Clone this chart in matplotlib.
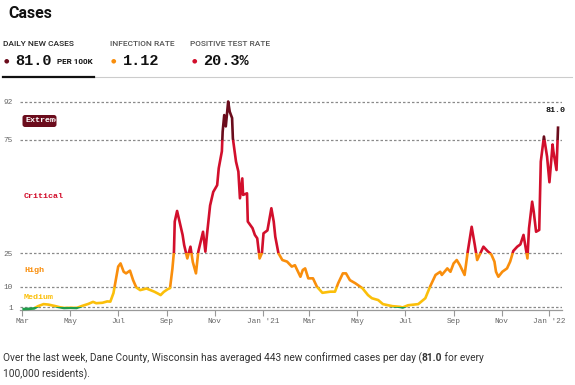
import matplotlib
matplotlib.use('Agg')
import matplotlib.pyplot as plt
import matplotlib.dates as mdates
from matplotlib.patches import Rectangle, FancyBboxPatch
from matplotlib.transforms import Bbox, TransformedBbox
import pandas as pd

# --- Data: daily new cases per 100k, Dane County, WI ---
dates = [
    '2020-03-01', '2020-03-09', '2020-03-16', '2020-03-21', '2020-03-28', '2020-04-03',
    '2020-04-11', '2020-04-18', '2020-04-23', '2020-05-01', '2020-05-09', '2020-05-16',
    '2020-05-24', '2020-05-30', '2020-06-03', '2020-06-11', '2020-06-17', '2020-06-21',
    '2020-06-25', '2020-06-29', '2020-07-01', '2020-07-04', '2020-07-08', '2020-07-11',
    '2020-07-16', '2020-07-20', '2020-07-24', '2020-07-29', '2020-08-06', '2020-08-11',
    '2020-08-16', '2020-08-21', '2020-08-24', '2020-08-28', '2020-09-02', '2020-09-05',
    '2020-09-08', '2020-09-10', '2020-09-11', '2020-09-14', '2020-09-17', '2020-09-21',
    '2020-09-23', '2020-09-27', '2020-10-01', '2020-10-04', '2020-10-08', '2020-10-11',
    '2020-10-17', '2020-10-20', '2020-10-22', '2020-10-26', '2020-10-30', '2020-11-04',
    '2020-11-06', '2020-11-10', '2020-11-11', '2020-11-13', '2020-11-15', '2020-11-18',
    '2020-11-20', '2020-11-23', '2020-11-24', '2020-11-28', '2020-12-01', '2020-12-03',
    '2020-12-06', '2020-12-07', '2020-12-12', '2020-12-13', '2020-12-19', '2020-12-22',
    '2020-12-25', '2020-12-28', '2020-12-31', '2021-01-02', '2021-01-07', '2021-01-12',
    '2021-01-15', '2021-01-17', '2021-01-21', '2021-01-26', '2021-02-01', '2021-02-07',
    '2021-02-11', '2021-02-18', '2021-02-21', '2021-02-24', '2021-02-28', '2021-03-06',
    '2021-03-11', '2021-03-18', '2021-03-28', '2021-04-03', '2021-04-07', '2021-04-13',
    '2021-04-17', '2021-04-22', '2021-04-29', '2021-05-08', '2021-05-15', '2021-05-20',
    '2021-05-28', '2021-06-03', '2021-06-15', '2021-06-25', '2021-06-28', '2021-07-05',
    '2021-07-18', '2021-07-27', '2021-08-02', '2021-08-09', '2021-08-15', '2021-08-17',
    '2021-08-24', '2021-08-28', '2021-09-01', '2021-09-05', '2021-09-09', '2021-09-15',
    '2021-09-19', '2021-09-24', '2021-09-28', '2021-10-01', '2021-10-05', '2021-10-09',
    '2021-10-14', '2021-10-19', '2021-10-23', '2021-10-25', '2021-10-28', '2021-11-02',
    '2021-11-08', '2021-11-12', '2021-11-16', '2021-11-21', '2021-11-25', '2021-11-29',
    '2021-12-04', '2021-12-06', '2021-12-10', '2021-12-12', '2021-12-15', '2021-12-19',
    '2021-12-21', '2021-12-25', '2021-12-29', '2022-01-01', '2022-01-05', '2022-01-06',
    '2022-01-10', '2022-01-12',
]
cases = [
    0.2, 0.3, 0.5, 1.5, 2.4, 2.2,
    1.6, 1.0, 0.7, 0.8, 0.7, 1.6,
    2.5, 3.4, 2.8, 3.0, 3.6, 3.5,
    7.3, 15.0, 19.0, 20.4, 16.7, 16.0,
    17.2, 13.0, 9.8, 8.6, 9.3, 8.6,
    7.9, 7.0, 6.4, 7.8, 9.0, 9.5,
    18.0, 25.6, 38.9, 43.6, 39.0, 33.0,
    28.5, 22.6, 27.8, 21.0, 16.0, 25.6,
    34.4, 25.6, 33.0, 46.0, 52.0, 55.0,
    62.5, 70.0, 78.7, 86.0, 81.0, 92.0,
    87.5, 84.7, 75.7, 65.4, 61.0, 49.2,
    58.0, 50.7, 51.4, 38.9, 36.0, 33.0,
    31.5, 22.6, 25.0, 33.7, 35.0, 44.8,
    38.9, 32.2, 24.9, 21.9, 21.2, 19.0,
    19.6, 14.5, 17.5, 18.2, 13.8, 13.8,
    10.1, 7.4, 7.9, 7.9, 11.6, 16.0,
    16.0, 13.0, 11.6, 9.4, 6.4, 5.0,
    4.2, 2.4, 1.5, 1.2, 0.9, 1.9,
    2.4, 5.0, 10.1, 15.3, 16.7, 15.3,
    18.2, 16.7, 20.4, 21.9, 19.6, 15.3,
    25.6, 36.6, 28.5, 21.9, 24.9, 27.8,
    25.9, 24.4, 21.2, 16.7, 14.5, 16.7,
    18.2, 21.2, 25.9, 27.8, 28.8, 33.0,
    22.6, 35.9, 47.7, 43.3, 34.4, 35.2,
    65.4, 76.5, 67.6, 56.3, 73.0, 70.0,
    61.7, 81.0,
]

tick_dates = ['2020-03-01', '2020-05-01', '2020-07-01', '2020-09-01', '2020-11-01', '2021-01-01',
              '2021-03-01', '2021-05-01', '2021-07-01', '2021-09-01', '2021-11-01', '2022-01-01']
tick_labels = ['Mar', 'May', 'Jul', 'Sep', 'Nov', "Jan '21",
               'Mar', 'May', 'Jul', 'Sep', 'Nov', "Jan '22"]
y_ticks = [1, 10, 25, 75, 92]

# risk level bands: (low, high, colour)
band_low = [-10, 1, 10, 25, 75]
band_high = [1, 10, 25, 75, 500]
band_colors = ['#1f9e4a', '#fbbf0a', '#f98e0c', '#d20f2c', '#6b0c1c']

MONO = 'Liberation Mono'
SANS = 'Roboto'
GRAY = '#666666'

W, H = 575, 385
fig = plt.figure(figsize=(W / 100, H / 100), dpi=100)


def fx(x):
    return x / W


def fy(y):
    return 1 - y / H


# --- Header ---
fig.text(fx(8), fy(14), 'Cases', fontsize=11.5, fontweight='bold', family=SANS,
         color='#111111', va='center')
fig.text(fx(3), fy(43.5), 'DAILY NEW CASES', fontsize=6, fontweight='medium', family=SANS,
         color='#222222', va='center')
fig.text(fx(110), fy(43.5), 'INFECTION RATE', fontsize=6, fontweight='medium', family=SANS,
         color='#555555', va='center')
fig.text(fx(190.5), fy(43.5), 'POSITIVE TEST RATE', fontsize=6, fontweight='medium',
         family=SANS, color='#555555', va='center')

fig.text(fx(6), fy(61), '\u25cf', fontsize=4.5, color='#6b0c1c', ha='center', va='center')
fig.text(fx(15), fy(61), '81.0', fontsize=11, fontweight='bold', family=MONO,
         color='#111111', va='center')
fig.text(fx(57), fy(61.5), 'PER 100K', fontsize=5.8, fontweight='bold', family=SANS,
         color='#111111', va='center')
fig.text(fx(113.5), fy(61), '\u25cf', fontsize=4.5, color='#f98e0c', ha='center', va='center')
fig.text(fx(122.5), fy(61), '1.12', fontsize=11, fontweight='bold', family=MONO,
         color='#111111', va='center')
fig.text(fx(194.5), fy(61), '\u25cf', fontsize=4.5, color='#d20f2c', ha='center', va='center')
fig.text(fx(203), fy(61), '20.3%', fontsize=11, fontweight='bold', family=MONO,
         color='#111111', va='center')

fig.add_artist(plt.Line2D([fx(94), fx(572)], [fy(77), fy(77)], color='#cccccc', lw=0.8))
fig.add_artist(plt.Line2D([fx(3), fx(94)], [fy(76.8), fy(76.8)], color='#111111', lw=1.6))

# --- Chart ---
ax = fig.add_axes([fx(20), fy(310), 542 / W, 225 / H])
d = pd.to_datetime(dates)
x0 = mdates.date2num(pd.Timestamp('2020-02-27'))
x1 = mdates.date2num(pd.Timestamp('2022-01-17'))
ax.set_xlim(x0, x1)
ax.set_ylim(-0.2, 99.3)

for lo, hi, c in zip(band_low, band_high, band_colors):
    line, = ax.plot(d, cases, color=c, lw=1.9, solid_joinstyle='round',
                    solid_capstyle='butt', zorder=3)
    line.set_clip_path(Rectangle((x0, lo), x1 - x0, hi - lo, transform=ax.transData))

for yv in y_ticks:
    ax.axhline(yv, color='#8a8a8a', lw=0.9, linestyle=(0, (2, 1.6)), zorder=1)

for side in ['top', 'right', 'left']:
    ax.spines[side].set_visible(False)
ax.spines['bottom'].set_color('#999999')
ax.spines['bottom'].set_linewidth(0.9)

ax.set_xticks(pd.to_datetime(tick_dates))
ax.set_xticklabels(tick_labels)
ax.set_yticks(y_ticks)
ax.set_yticklabels([str(v) for v in y_ticks])
ax.tick_params(axis='x', colors='#999999', length=4, width=0.8, pad=2,
               labelsize=5.6, labelcolor=GRAY)
ax.tick_params(axis='y', length=0, pad=5, labelsize=5.6, labelcolor=GRAY)
for lbl in ax.get_xticklabels() + ax.get_yticklabels():
    lbl.set_family(MONO)

# latest value label
ax.annotate(f'{cases[-1]:.1f}', (d[-1], cases[-1]), xytext=(-2, 9), textcoords='offset points',
            ha='center', va='bottom', fontsize=6, fontweight='bold', family=MONO,
            color='#111111', annotation_clip=False)

# risk level labels
ax.text(fx(24), fy(197), 'Critical', transform=fig.transFigure, fontsize=6, fontweight='bold',
        family=MONO, color='#d20f2c', va='center')
ax.text(fx(24), fy(270.5), 'High', transform=fig.transFigure, fontsize=6, fontweight='bold',
        family=MONO, color='#f98e0c', va='center')
ax.text(fx(24), fy(297.5), 'Medium', transform=fig.transFigure, fontsize=6, fontweight='bold',
        family=MONO, color='#fbbf0a', va='center')

box = FancyBboxPatch((22.5 / 100, (H - 127) / 100), 34 / 100, 12 / 100,
                     boxstyle='round,pad=0,rounding_size=0.025',
                     transform=fig.dpi_scale_trans, facecolor='#6b0c1c', edgecolor='none')
fig.add_artist(box)
t = fig.text(fx(25), fy(121), 'Extreme', fontsize=6, fontweight='bold', family=MONO,
             color='white', va='center')
t.set_clip_box(TransformedBbox(Bbox([[22.5 / 100, (H - 127) / 100], [56.5 / 100, (H - 115) / 100]]),
                               fig.dpi_scale_trans))
t.set_clip_on(True)

# --- Footer sentence with bold value ---
r = fig.canvas.get_renderer()
parts = [('Over the last week, Dane County, Wisconsin has averaged 443 new confirmed cases per day (',
          'normal'), ('81.0', 'bold'), (' for every', 'normal')]
xpos = fx(3)
for txt, wt in parts:
    tt = fig.text(xpos, fy(361), txt, fontsize=7.3, fontweight=wt, family=SANS,
                  color='#333333', va='baseline')
    bb = tt.get_window_extent(r)
    xpos = bb.x1 / fig.bbox.width
fig.text(fx(3), fy(377), '100,000 residents).', fontsize=7.3, family=SANS,
         color='#333333', va='baseline')

fig.savefig('out.png', dpi=100)
